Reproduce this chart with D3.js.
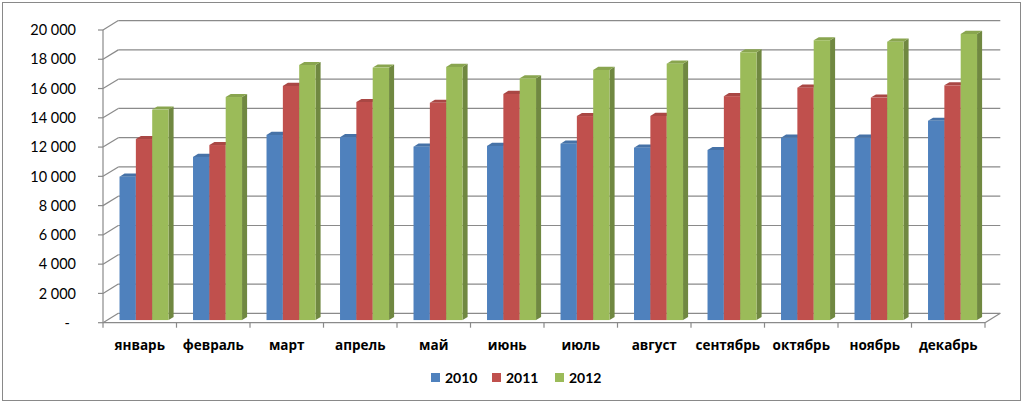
<!DOCTYPE html>
<html><head><meta charset="utf-8">
<script src="https://cdn.jsdelivr.net/npm/d3@7"></script>
<style>html,body{margin:0;padding:0;background:#fff;}svg{display:block;}</style>
</head><body>
<svg id="chart" width="1024" height="403"></svg>
<script>
const months = ["январь","февраль","март","апрель","май","июнь","июль","август","сентябрь","октябрь","ноябрь","декабрь"];
const seriesNames = ["2010","2011","2012"];
const values2010 = [9800,11150,12650,12500,11850,11900,12050,11780,11620,12460,12460,13620];
const values2011 = [12370,11960,16000,14900,14850,15450,13940,13950,15300,15880,15200,16040];
const values2012 = [14380,15240,17430,17250,17300,16520,17090,17520,18300,19120,19020,19550];
const yTicks = [0,2000,4000,6000,8000,10000,12000,14000,16000,18000,20000];
const yTickLabels = ["-","2 000","4 000","6 000","8 000","10 000","12 000","14 000","16 000","18 000","20 000"];
const colors = ["#4F81BD","#C0504D","#9BBB59"];

const series = [values2010, values2011, values2012];
const svg = d3.select("#chart");
const gridColor = "#8a8a8a";
const fontMain = "Lato, 'Open Sans', 'Noto Sans', sans-serif";

// frame
svg.append("rect").attr("x",2.5).attr("y",2.5).attr("width",1018).attr("height",398)
  .attr("fill","#fff").attr("stroke","#898989").attr("stroke-width",1);

const x0 = 103, x1 = 985;
const depthX = 15.3, depthY = -9.4;
const y = d3.scaleLinear().domain([0,20000]).range([322.7,30]);
const xBand = d3.scaleBand().domain(months).range([x0,x1]).paddingInner(0).paddingOuter(0);
const bw = xBand.bandwidth();
const groupFrac = 0.667;
const xSeries = d3.scaleBand().domain(seriesNames).range([0,bw*groupFrac]).padding(0);

const g = svg.append("g");
// back wall gridlines and left wall diagonals
yTicks.forEach(v => {
  g.append("line").attr("x1",x0+depthX).attr("x2",x1+depthX)
    .attr("y1",y(v)+depthY).attr("y2",y(v)+depthY)
    .attr("stroke",gridColor).attr("stroke-width",1.2);
  g.append("line").attr("x1",x0).attr("x2",x0+depthX)
    .attr("y1",y(v)).attr("y2",y(v)+depthY)
    .attr("stroke",gridColor).attr("stroke-width",1.2);
  g.append("line").attr("x1",x0-5).attr("x2",x0)
    .attr("y1",y(v)).attr("y2",y(v))
    .attr("stroke",gridColor).attr("stroke-width",1.2);
});
// vertical axis line
g.append("line").attr("x1",x0).attr("x2",x0).attr("y1",y(20000)).attr("y2",y(0))
  .attr("stroke",gridColor).attr("stroke-width",1.2);
// floor front edge and right diagonal
g.append("line").attr("x1",x0).attr("x2",x1).attr("y1",y(0)).attr("y2",y(0))
  .attr("stroke",gridColor).attr("stroke-width",1.2);
g.append("line").attr("x1",x1).attr("x2",x1+depthX).attr("y1",y(0)).attr("y2",y(0)+depthY)
  .attr("stroke",gridColor).attr("stroke-width",1.2);
// category ticks
months.concat(["_end"]).forEach((m,i) => {
  const xx = i < months.length ? xBand(m) : x1;
  g.append("line").attr("x1",xx).attr("x2",xx).attr("y1",y(0)).attr("y2",y(0)+5)
    .attr("stroke",gridColor).attr("stroke-width",1.2);
});

// y labels
yTicks.forEach((v,i) => {
  svg.append("text").attr("x", v===0 ? 70 : 76).attr("y", y(v)).attr("dy","0.36em")
    .attr("text-anchor","end").attr("font-family",fontMain).attr("font-size","14.5px")
    .attr("fill","#000").text(yTickLabels[i]);
});

// bars
const fd = 0.28, bd = 0.33;
const fdx = depthX*fd, fdy = depthY*fd;
const bdx = depthX*bd, bdy = depthY*bd;
const barsG = svg.append("g");
months.forEach((m,mi) => {
  const gx = xBand(m) + bw*(1-groupFrac)/2 + fdx;
  seriesNames.forEach((s,si) => {
    const v = series[si][mi];
    const bx0 = gx + xSeries(s), bx1 = bx0 + xSeries.bandwidth();
    const by0 = y(0) + fdy, byt = y(v) + fdy;
    const c = d3.color(colors[si]);
    // side face
    barsG.append("path").attr("d",
      `M${bx1},${by0}L${bx1+bdx},${by0+bdy}L${bx1+bdx},${byt+bdy}L${bx1},${byt}Z`)
      .attr("fill", c.darker(0.9));
    // top face
    barsG.append("path").attr("d",
      `M${bx0},${byt}L${bx1},${byt}L${bx1+bdx},${byt+bdy}L${bx0+bdx},${byt+bdy}Z`)
      .attr("fill", c.darker(0.35));
    // front face
    barsG.append("rect").attr("x",bx0).attr("y",byt).attr("width",bx1-bx0).attr("height",by0-byt)
      .attr("fill", colors[si]);
  });
});

// category labels
months.forEach(m => {
  svg.append("text").attr("x", xBand(m)+bw/2).attr("y",350).attr("text-anchor","middle")
    .attr("font-family","'Open Sans', 'Noto Sans', sans-serif").attr("font-weight","bold")
    .attr("font-size","13.5px").attr("fill","#000").text(m);
});

// legend
const legX = [431, 492, 555];
seriesNames.forEach((s,i) => {
  svg.append("rect").attr("x",legX[i]).attr("y",373).attr("width",9).attr("height",9).attr("fill",colors[i]);
  svg.append("text").attr("x",legX[i]+14).attr("y",382.5).attr("font-family",fontMain)
    .attr("font-weight","bold").attr("font-size","14px").attr("fill","#000").text(s);
});
</script>
</body></html>
